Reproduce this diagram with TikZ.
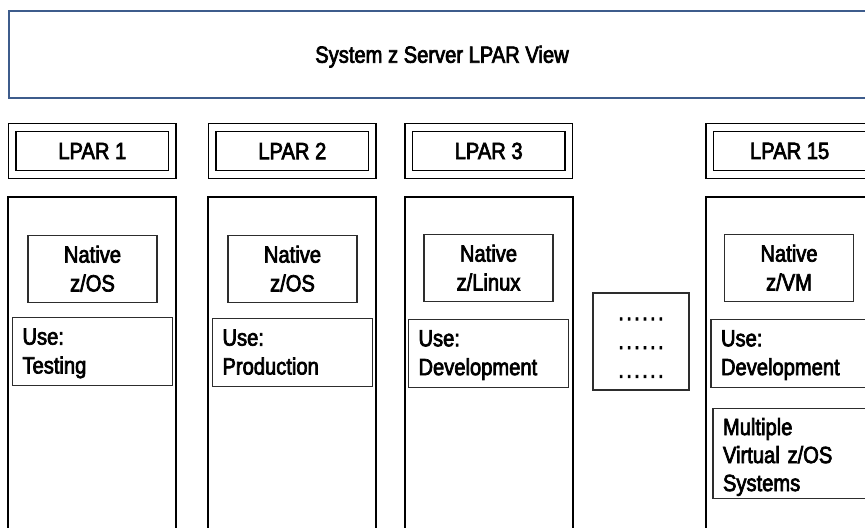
\documentclass[tikz,border=0pt]{standalone}
\usepackage{fontspec}
\setmainfont[FakeStretch=0.86, FakeBold=3]{Liberation Sans}
\usepackage{xcolor}
\usepackage{tikz}
\usetikzlibrary{positioning}
\definecolor{viewblue}{RGB}{62, 92, 140}
\definecolor{boxgrey}{RGB}{45, 45, 45}
\newcommand{\dotrow}{.\kern2pt.\kern2pt.\kern2pt.\kern2pt.\kern2pt.}

\begin{document}
\begin{tikzpicture}[
    every node/.style={font=\fontsize{20}{24.6}\selectfont, inner sep=0pt},
    viewbox/.style={rectangle, draw=viewblue, line width=1.7pt, minimum width=27cm, minimum height=2.6cm},
    lparhead/.style={rectangle, draw=black, double, double distance=5.3pt, line width=1.2pt, minimum width=4.8cm, minimum height=1.41cm},
    lparbody/.style={rectangle, draw=black, line width=1.6pt, minimum width=5.04cm, minimum height=12cm, anchor=north},
    native/.style={rectangle, draw=boxgrey, line width=1pt, align=center, minimum width=3.87cm, minimum height=2.01cm, text height=38.3pt, text depth=0pt},
    usage/.style={rectangle, draw=boxgrey, line width=1pt, align=left, inner xsep=0.3cm, text width=4.2cm, minimum height=2.04cm, text height=14.5pt, text depth=26.5pt},
    dotsbox/.style={rectangle, draw=boxgrey, line width=1pt, align=center, minimum width=2.88cm, minimum height=2.91cm, text height=62pt, text depth=0pt}
]
\useasboundingbox (0,0) rectangle (25.95,-15.81);
\clip (0,0) rectangle (25.95,-15.81);

% Server view banner (runs off the right edge)
\node[viewbox] (view) at (13.77, -1.64) {};
\node (viewtext) at (13.26, -1.70) {System z Server LPAR View};

% LPAR headers
\node[lparhead] (head1) at (2.77, -4.53) {LPAR 1};
\node[lparhead] (head2) at (8.77, -4.53) {LPAR 2};
\node[lparhead] (head3) at (14.66, -4.53) {LPAR 3};
\node[lparhead] (head15) at (23.69, -4.53) {LPAR 15};

% LPAR bodies
\node[lparbody] (body1) at (2.76, -5.88) {};
\node[lparbody] (body2) at (8.76, -5.88) {};
\node[lparbody] (body3) at (14.66, -5.88) {};
\node[lparbody] (body15) at (23.70, -5.88) {};

% Operating systems
\node[native] (nat1) at (2.775, -8.07) {Native\\z/OS};
\node[native] (nat2) at (8.775, -8.07) {Native\\z/OS};
\node[native] (nat3) at (14.655, -8.04) {Native\\z/Linux};
\node[native] (nat15) at (23.67, -8.04) {Native\\z/VM};

% Usage
\node[usage, below=0.42cm of nat1] (use1) {Use:\\Testing};
\node[usage, below=0.45cm of nat2] (use2) {Use:\\Production};
\node[usage, below=0.5cm of nat3] (use3) {Use:\\Development};
\node[usage, below=0.5cm of nat15, xshift=0.06cm] (use15) {Use:\\Development};
\node[usage, font=\fontsize{20}{23.9}\selectfont, text width=4.08cm, minimum height=2.7cm, text depth=46pt, below=0.6cm of use15] (guests) {Multiple\\Virtual z/OS\\Systems};

% LPARs in between
\node[dotsbox] (more) at (19.23, -10.245) {\dotrow\\\dotrow\\\dotrow};

\end{tikzpicture}
\end{document}
